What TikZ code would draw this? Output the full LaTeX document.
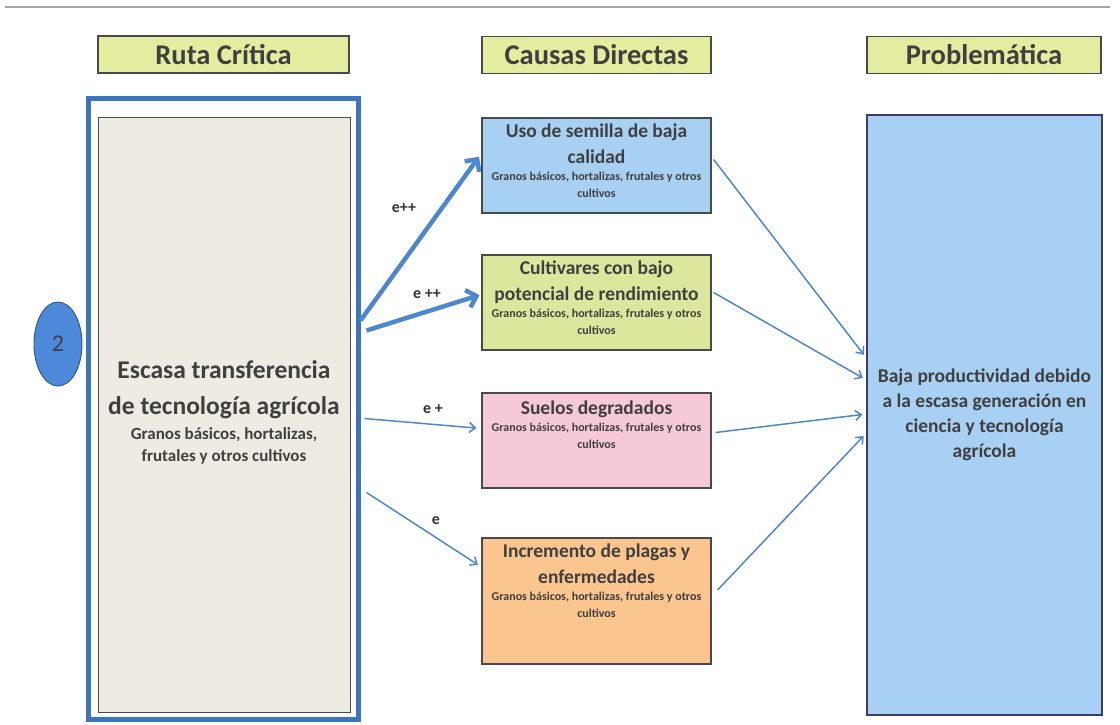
\documentclass[tikz,border=0pt]{standalone}
\usepackage{fontspec}
\setmainfont{Carlito}
\usepackage{xcolor}
\usetikzlibrary{positioning, arrows.meta, shapes.geometric}

\definecolor{encabezado}{HTML}{E3EC9F}
\definecolor{azulcaja}{HTML}{A8D0F2}
\definecolor{verdecaja}{HTML}{DCE69C}
\definecolor{rosacaja}{HTML}{F6C9D8}
\definecolor{naranjacaja}{HTML}{FBC590}
\definecolor{beige}{HTML}{EEEBE3}
\definecolor{marcoazul}{HTML}{3B75BD}
\definecolor{flechaazul}{HTML}{4C88D2}
\definecolor{circulo}{HTML}{4D89D8}
\definecolor{texto}{HTML}{3F3F3F}
\definecolor{borde}{HTML}{4A4A4A}

\tikzset{
  encab/.style={draw=borde, fill=encabezado, line width=1.2pt, minimum height=37pt,
    inner sep=0pt, text=texto, font=\fontsize{28.5}{32}\selectfont\bfseries},
  causa/.style={draw=borde, line width=1.2pt, minimum width=229pt, inner sep=0pt},
  titulo/.style={anchor=north, align=center, inner sep=0pt, text depth=4pt, text=texto,
    font=\fontsize{19.5}{26}\selectfont\bfseries},
  subtitulo/.style={align=center, inner sep=0pt, text=texto,
    font=\fontsize{12}{17}\selectfont\bfseries},
  etiqueta/.style={inner sep=0pt, text=texto!80!black, font=\fontsize{16}{18}\selectfont\bfseries},
  gruesa/.style={draw=flechaazul, line width=4.5pt, -{Straight Barb[length=9pt,width=18pt]}},
  fina/.style={draw=flechaazul, line width=1.5pt, -{Straight Barb[length=6pt,width=10pt]}}
}

\begin{document}
\begin{tikzpicture}[x=1pt, y=-1pt]
  \useasboundingbox (0,0) rectangle (1120,724);

  % Top rule
  \draw[gray!70, line width=2.5pt] (5,7) -- (1110,7);

  % Headers
  \node[encab, minimum width=251pt] (hRuta) at (223.5,54.5) {Ruta Crítica};
  \node[encab, minimum width=229pt] (hCausas) at (596.5,55) {Causas Directas};
  \node[encab, minimum width=234pt] (hProb) at (984,55) {Problemática};

  % Critical route
  \node[draw=marcoazul, line width=5pt, fill=white, minimum width=270pt,
    minimum height=621pt] (marco) at (223,408.5) {};
  \node[draw=borde, fill=beige, line width=1pt, minimum width=252pt,
    minimum height=595pt] (ruta) at (224,414.5) {};
  \node[titulo, font=\fontsize{25.5}{36}\selectfont\bfseries, text depth=5pt]
    (tRuta) at ([yshift=54pt]ruta.center) {Escasa transferencia\\de tecnología agrícola};
  \node[subtitulo, font=\fontsize{17}{22}\selectfont\bfseries, below=8pt of tRuta]
    (sRuta) {Granos básicos, hortalizas,\\frutales y otros cultivos};

  % Number marker
  \node[ellipse, draw=marcoazul!80!black, fill=circulo, line width=1pt, minimum width=48pt,
    minimum height=84pt, inner sep=0pt, text=texto,
    font=\fontsize{24}{28}\selectfont] (num) at (58,344) {2};

  % Direct causes
  \node[causa, fill=azulcaja, minimum height=95pt] (causa1) at (596.5,165.5) {};
  \node[causa, fill=verdecaja, minimum height=95pt] (causa2) at (596.5,302.5) {};
  \node[causa, fill=rosacaja, minimum height=95pt] (causa3) at (596.5,440.5) {};
  \node[causa, fill=naranjacaja, minimum height=126pt] (causa4) at (596.5,601) {};

  \node[titulo] (t1) at ([yshift=-6pt]causa1.north) {Uso de semilla de baja\\calidad};
  \node[subtitulo, below=4pt of t1] (s1) {Granos básicos, hortalizas, frutales y otros\\cultivos};
  \node[titulo] (t2) at ([yshift=-6pt]causa2.north) {Cultivares con bajo\\potencial de rendimiento};
  \node[subtitulo, below=4pt of t2] (s2) {Granos básicos, hortalizas, frutales y otros\\cultivos};
  \node[titulo] (t3) at ([yshift=-8pt]causa3.north) {Suelos degradados};
  \node[subtitulo, below=4pt of t3] (s3) {Granos básicos, hortalizas, frutales y otros\\cultivos};
  \node[titulo] (t4) at ([yshift=-6pt]causa4.north) {Incremento de plagas y\\enfermedades};
  \node[subtitulo, below=4pt of t4] (s4) {Granos básicos, hortalizas, frutales y otros\\cultivos};

  % Problem
  \node[draw=borde!80!blue, fill=azulcaja, line width=1.2pt, minimum width=235pt,
    minimum height=600pt] (prob) at (984.5,415) {};
  \node[align=center, inner sep=0pt, text=texto,
    font=\fontsize{19.5}{25}\selectfont\bfseries] (tProb) at (prob.center)
    {Baja productividad debido\\a la escasa generación en\\ciencia y tecnología\\agrícola};

  % Route -> causes
  \draw[gruesa, shorten >=4pt] ([yshift=88pt]marco.east) -- ([yshift=12pt]causa1.west);
  \draw[gruesa, shorten >=2pt] ([yshift=78pt,xshift=6pt]marco.east) -- ([yshift=8pt]causa2.west);
  \draw[fina, shorten >=5pt] ([yshift=-10pt,xshift=4pt]marco.east) -- ([yshift=12pt]causa3.west);
  \draw[fina, shorten >=4pt] ([yshift=-84pt,xshift=6pt]marco.east) -- ([yshift=34pt]causa4.west);

  \node[etiqueta] (e1) at (404,208) {e++};
  \node[etiqueta] (e2) at (427,294) {e ++};
  \node[etiqueta] (e3) at (433,409) {e +};
  \node[etiqueta] (e4) at (436,521) {e};

  % Causes -> problem
  \draw[fina, shorten >=4pt] ([yshift=6pt,xshift=2pt]causa1.east) -- ([yshift=57pt]prob.west);
  \draw[fina, shorten >=4pt] ([yshift=10pt,xshift=2pt]causa2.east) -- ([yshift=35pt]prob.west);
  \draw[fina, shorten >=4pt] ([yshift=8pt,xshift=4pt]causa3.east) -- ([yshift=1pt]prob.west);
  \draw[fina, shorten >=4pt] ([yshift=11pt,xshift=6pt]causa4.east) -- ([yshift=-18pt]prob.west);
\end{tikzpicture}
\end{document}
